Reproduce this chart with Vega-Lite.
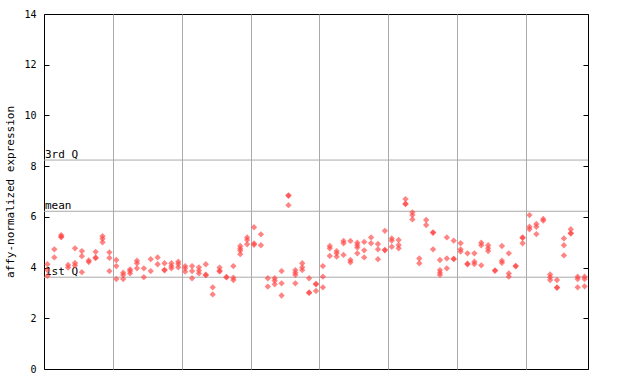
{
  "$schema": "https://vega.github.io/schema/vega-lite/v6.json",
  "width": 544,
  "height": 355,
  "autosize": {"type": "none"},
  "padding": {"left": 44, "top": 14, "right": 52, "bottom": 15},
  "background": "white",
  "config": {
    "view": {"stroke": "black", "strokeWidth": 1},
    "font": "DejaVu Sans Mono",
    "axis": {"labelFont": "DejaVu Sans Mono", "titleFont": "DejaVu Sans Mono"}
  },
  "resolve": {"axis": {"y": "independent"}},
  "layer": [
    {
      "data": {"values": [{"t": "3rd Q", "v": 8.24}, {"t": "mean", "v": 6.22}, {"t": "1st Q", "v": 3.62}]},
      "mark": {"type": "rule", "color": "#aaaaaa", "strokeWidth": 1},
      "encoding": {
        "y": {"field": "v", "type": "quantitative", "scale": {"domain": [0, 14], "nice": false, "zero": false},
          "axis": {"orient": "right", "values": [0, 2, 4, 6, 8, 10, 12, 14], "labels": false, "tickSize": -5, "tickColor": "black", "domain": false, "grid": false, "title": null}}
      }
    },
    {
      "data": {"values": [{"t": "3rd Q", "v": 8.24}, {"t": "mean", "v": 6.22}, {"t": "1st Q", "v": 3.62}]},
      "mark": {"type": "text", "align": "left", "baseline": "bottom", "font": "DejaVu Sans Mono", "fontSize": 11, "color": "black", "dx": 1, "dy": 0},
      "encoding": {
        "x": {"datum": 0, "type": "quantitative", "scale": {"domain": [0, 79], "nice": false, "zero": false}},
        "y": {"field": "v", "type": "quantitative", "axis": null},
        "text": {"field": "t"}
      }
    },
    {
      "data": {"values": [
        {"x":0.5,"v":4.13},{"x":0.5,"v":3.9},{"x":0.5,"v":3.67},
        {"x":1.5,"v":4.72},{"x":1.5,"v":4.4},
        {"x":2.5,"v":5.28},{"x":2.5,"v":5.2},{"x":2.5,"v":5.22},
        {"x":3.5,"v":4.1},{"x":3.5,"v":4.0},
        {"x":4.5,"v":4.76},{"x":4.5,"v":4.18},{"x":4.5,"v":4.08},
        {"x":5.5,"v":4.65},{"x":5.5,"v":4.45},{"x":5.5,"v":3.82},
        {"x":6.5,"v":4.28},{"x":6.5,"v":4.22},
        {"x":7.5,"v":4.62},{"x":7.5,"v":4.4},{"x":7.5,"v":4.37},
        {"x":8.5,"v":5.24},{"x":8.5,"v":5.14},{"x":8.5,"v":5.0},
        {"x":9.5,"v":4.6},{"x":9.5,"v":4.38},{"x":9.5,"v":3.86},
        {"x":10.5,"v":4.3},{"x":10.5,"v":4.06},{"x":10.5,"v":3.55},
        {"x":11.5,"v":3.8},{"x":11.5,"v":3.71},{"x":11.5,"v":3.55},
        {"x":12.5,"v":3.93},{"x":12.5,"v":3.86},{"x":12.5,"v":3.77},
        {"x":13.5,"v":4.27},{"x":13.5,"v":4.17},{"x":13.5,"v":3.97},
        {"x":14.5,"v":3.97},{"x":14.5,"v":3.62},
        {"x":15.5,"v":4.33},{"x":15.5,"v":3.86},
        {"x":16.5,"v":4.4},{"x":16.5,"v":4.13},
        {"x":17.5,"v":4.17},{"x":17.5,"v":3.91},{"x":17.5,"v":3.89},
        {"x":18.5,"v":4.17},{"x":18.5,"v":4.06},{"x":18.5,"v":3.97},
        {"x":19.5,"v":4.23},{"x":19.5,"v":4.14},{"x":19.5,"v":4.01},
        {"x":20.5,"v":4.06},{"x":20.5,"v":3.97},{"x":20.5,"v":3.84},
        {"x":21.5,"v":4.06},{"x":21.5,"v":3.86},{"x":21.5,"v":3.58},
        {"x":22.5,"v":4.01},{"x":22.5,"v":3.88},{"x":22.5,"v":3.77},
        {"x":23.5,"v":4.13},{"x":23.5,"v":3.72},{"x":23.5,"v":3.7},
        {"x":24.5,"v":3.22},{"x":24.5,"v":2.94},
        {"x":25.5,"v":4.0},{"x":25.5,"v":3.87},{"x":25.5,"v":3.85},
        {"x":26.5,"v":3.63},{"x":26.5,"v":3.61},
        {"x":27.5,"v":4.06},{"x":27.5,"v":3.6},{"x":27.5,"v":3.51},
        {"x":28.5,"v":4.85},{"x":28.5,"v":4.75},{"x":28.5,"v":4.67},{"x":28.5,"v":4.53},
        {"x":29.5,"v":5.19},{"x":29.5,"v":5.09},{"x":29.5,"v":4.92},
        {"x":30.5,"v":5.59},{"x":30.5,"v":4.95},{"x":30.5,"v":4.9},
        {"x":31.5,"v":5.31},{"x":31.5,"v":4.88},
        {"x":32.5,"v":3.58},{"x":32.5,"v":3.25},
        {"x":33.5,"v":3.58},{"x":33.5,"v":3.48},{"x":33.5,"v":3.34},
        {"x":34.5,"v":3.86},{"x":34.5,"v":3.38},{"x":34.5,"v":2.9},
        {"x":35.5,"v":6.85},{"x":35.5,"v":6.83},{"x":35.5,"v":6.46},
        {"x":36.5,"v":3.9},{"x":36.5,"v":3.8},{"x":36.5,"v":3.71},{"x":36.5,"v":3.38},
        {"x":37.5,"v":4.17},{"x":37.5,"v":4.01},{"x":37.5,"v":3.9},
        {"x":38.5,"v":3.58},{"x":38.5,"v":3.02},{"x":38.5,"v":3.0},
        {"x":39.5,"v":3.36},{"x":39.5,"v":3.34},{"x":39.5,"v":3.08},
        {"x":40.5,"v":4.06},{"x":40.5,"v":3.64},{"x":40.5,"v":3.22},
        {"x":41.5,"v":4.85},{"x":41.5,"v":4.76},{"x":41.5,"v":4.46},
        {"x":42.5,"v":4.65},{"x":42.5,"v":4.56},{"x":42.5,"v":4.43},
        {"x":43.5,"v":5.05},{"x":43.5,"v":4.96},{"x":43.5,"v":4.5},
        {"x":44.5,"v":5.05},{"x":44.5,"v":4.3},{"x":44.5,"v":4.21},
        {"x":45.5,"v":4.98},{"x":45.5,"v":4.88},{"x":45.5,"v":4.79},{"x":45.5,"v":4.56},
        {"x":46.5,"v":5.01},{"x":46.5,"v":4.68},{"x":46.5,"v":4.4},
        {"x":47.5,"v":5.19},{"x":47.5,"v":4.96},
        {"x":48.5,"v":4.93},{"x":48.5,"v":4.72},{"x":48.5,"v":4.33},
        {"x":49.5,"v":5.45},{"x":49.5,"v":4.7},{"x":49.5,"v":4.68},
        {"x":50.5,"v":5.15},{"x":50.5,"v":5.06},{"x":50.5,"v":4.82},
        {"x":51.5,"v":5.09},{"x":51.5,"v":4.89},{"x":51.5,"v":4.76},
        {"x":52.5,"v":6.7},{"x":52.5,"v":6.52},{"x":52.5,"v":6.5},
        {"x":53.5,"v":6.18},{"x":53.5,"v":6.07},{"x":53.5,"v":5.9},
        {"x":54.5,"v":4.36},{"x":54.5,"v":4.17},
        {"x":55.5,"v":5.88},{"x":55.5,"v":5.68},
        {"x":56.5,"v":5.39},{"x":56.5,"v":5.37},{"x":56.5,"v":4.72},
        {"x":57.5,"v":4.3},{"x":57.5,"v":3.9},{"x":57.5,"v":3.8},{"x":57.5,"v":3.71},
        {"x":58.5,"v":5.19},{"x":58.5,"v":4.36},{"x":58.5,"v":3.97},
        {"x":59.5,"v":5.06},{"x":59.5,"v":4.35},{"x":59.5,"v":4.33},
        {"x":60.5,"v":4.96},{"x":60.5,"v":4.72},{"x":60.5,"v":4.63},
        {"x":61.5,"v":4.56},{"x":61.5,"v":4.15},{"x":61.5,"v":4.13},
        {"x":62.5,"v":4.56},{"x":62.5,"v":4.23},{"x":62.5,"v":4.14},
        {"x":63.5,"v":4.98},{"x":63.5,"v":4.88},{"x":63.5,"v":4.09},
        {"x":64.5,"v":4.88},{"x":64.5,"v":4.76},{"x":64.5,"v":4.65},
        {"x":65.5,"v":3.89},{"x":65.5,"v":3.87},
        {"x":66.5,"v":4.85},{"x":66.5,"v":4.27},{"x":66.5,"v":4.19},
        {"x":67.5,"v":4.56},{"x":67.5,"v":3.77},{"x":67.5,"v":3.64},
        {"x":68.5,"v":4.07},{"x":68.5,"v":4.05},
        {"x":69.5,"v":5.19},{"x":69.5,"v":5.17},{"x":69.5,"v":4.96},
        {"x":70.5,"v":6.07},{"x":70.5,"v":5.61},{"x":70.5,"v":5.51},
        {"x":71.5,"v":5.72},{"x":71.5,"v":5.61},{"x":71.5,"v":5.32},
        {"x":72.5,"v":5.92},{"x":72.5,"v":5.85},
        {"x":73.5,"v":3.73},{"x":73.5,"v":3.62},{"x":73.5,"v":3.51},
        {"x":74.5,"v":3.51},{"x":74.5,"v":3.22},{"x":74.5,"v":3.2},
        {"x":75.5,"v":5.15},{"x":75.5,"v":4.88},{"x":75.5,"v":4.48},
        {"x":76.5,"v":5.51},{"x":76.5,"v":5.36},{"x":76.5,"v":5.34},
        {"x":77.5,"v":3.64},{"x":77.5,"v":3.55},{"x":77.5,"v":3.22},
        {"x":78.5,"v":3.64},{"x":78.5,"v":3.55},{"x":78.5,"v":3.26}
      ]},
      "mark": {"type": "point", "shape": "diamond", "filled": true, "size": 40, "color": "#ff4444", "opacity": 0.65, "strokeWidth": 0},
      "encoding": {
        "x": {"field": "x", "type": "quantitative", "scale": {"domain": [0, 79], "nice": false, "zero": false},
          "axis": {"values": [10, 20, 30, 40, 50, 60, 70], "grid": true, "gridColor": "#aaaaaa", "gridOpacity": 1, "labels": false, "ticks": false, "domain": false, "title": null}},
        "y": {"field": "v", "type": "quantitative", "scale": {"domain": [0, 14], "nice": false, "zero": false},
          "axis": {"orient": "left", "values": [0, 2, 4, 6, 8, 10, 12, 14], "grid": false, "tickSize": -5, "tickColor": "black", "domain": false,
            "labelFontSize": 10, "labelColor": "black", "labelPadding": 13, "labelFont": "DejaVu Sans Mono",
            "title": "affy-normalized expression", "titleFontSize": 11, "titleFontWeight": "normal", "titleColor": "black", "titlePadding": 8, "titleFont": "DejaVu Sans Mono"}}
      }
    }
  ]
}
